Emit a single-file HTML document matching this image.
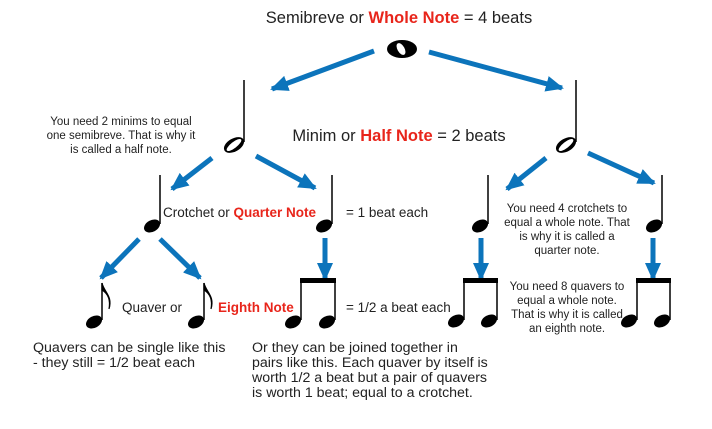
<!DOCTYPE html>
<html><head><meta charset="utf-8"><style>
html,body{margin:0;padding:0;background:#fff;}
svg{display:block;font-family:"Liberation Sans",Arial,sans-serif;}
.r{fill:#e8251b;font-weight:bold;}
</style></head><body>
<svg width="712" height="429" viewBox="0 0 712 429" xmlns="http://www.w3.org/2000/svg">
<defs>
<marker id="a" markerUnits="userSpaceOnUse" markerWidth="20" markerHeight="20" refX="16" refY="8" orient="auto">
<path d="M0,0 L18,8 L0,16 Z" fill="#0c74bb"/>
</marker>
<g id="hh"><ellipse cx="0" cy="0" rx="11" ry="6.5" transform="rotate(-30)" fill="#000"/><ellipse cx="0" cy="0" rx="9" ry="3" transform="rotate(-38)" fill="#fff"/></g>
<g id="qh"><ellipse cx="0" cy="0" rx="8.5" ry="5.8" transform="rotate(-28)" fill="#000"/></g>
</defs>
<g fill="#222" font-size="16.5">
<text x="399" y="23" text-anchor="middle">Semibreve or <tspan class="r">Whole Note</tspan> = 4 beats</text>
<text x="399" y="141" text-anchor="middle">Minim or <tspan class="r">Half Note</tspan> = 2 beats</text>
</g>
<ellipse cx="402" cy="49" rx="15" ry="9" fill="#000"/>
<ellipse cx="401" cy="49" rx="3.5" ry="6.5" transform="rotate(-30 401 49)" fill="#fff"/>
<g stroke="#0c74bb" stroke-width="5" marker-end="url(#a)" fill="none">
<line x1="374" y1="51" x2="272" y2="89"/>
<line x1="429" y1="52" x2="562" y2="88"/>
<line x1="212" y1="158" x2="172" y2="189"/>
<line x1="256" y1="156" x2="315" y2="188"/>
<line x1="546" y1="158" x2="507" y2="189"/>
<line x1="588" y1="153" x2="654" y2="183"/>
<line x1="139" y1="239" x2="101" y2="278"/>
<line x1="160" y1="239" x2="200" y2="278"/>
<line x1="325" y1="238" x2="325" y2="279"/>
<line x1="481" y1="238" x2="481" y2="279"/>
<line x1="653" y1="238" x2="653" y2="279"/>
</g>
<g stroke="#000" stroke-width="1.5">
<line x1="244" y1="80" x2="244" y2="142"/>
<line x1="576" y1="80" x2="576" y2="142"/>
<line x1="160" y1="175" x2="160" y2="224"/>
<line x1="332" y1="175" x2="332" y2="224"/>
<line x1="488" y1="175" x2="488" y2="224"/>
<line x1="662" y1="175" x2="662" y2="224"/>
<line x1="102" y1="283" x2="102" y2="320"/>
<line x1="204" y1="283" x2="204" y2="320"/>
<line x1="301" y1="280" x2="301" y2="320"/>
<line x1="335" y1="280" x2="335" y2="320"/>
<line x1="464" y1="280" x2="464" y2="320"/>
<line x1="497" y1="280" x2="497" y2="320"/>
<line x1="637" y1="280" x2="637" y2="320"/>
<line x1="670" y1="280" x2="670" y2="320"/>
</g>
<use href="#hh" x="234" y="145"/>
<use href="#hh" x="566" y="145"/>
<use href="#qh" x="152" y="226"/>
<use href="#qh" x="324" y="226"/>
<use href="#qh" x="480" y="226"/>
<use href="#qh" x="654" y="226"/>
<use href="#qh" x="94" y="322"/>
<use href="#qh" x="196" y="322"/>
<use href="#qh" x="293" y="322"/>
<use href="#qh" x="327" y="322"/>
<use href="#qh" x="456" y="321"/>
<use href="#qh" x="489" y="321"/>
<use href="#qh" x="629" y="321"/>
<use href="#qh" x="662" y="321"/>
<path d="M102,283 C104,292 113,296 109,309 C111,298 107,293 102,290 Z" fill="#000" stroke="#000" stroke-width="1.2"/>
<path d="M204,283 C206,292 215,296 211,309 C213,298 209,293 204,290 Z" fill="#000" stroke="#000" stroke-width="1.2"/>
<rect x="300" y="278" width="36" height="5" fill="#000"/>
<rect x="463" y="278" width="35" height="5" fill="#000"/>
<rect x="636" y="278" width="35" height="5" fill="#000"/>
<g fill="#222" font-size="13.5">
<text x="163" y="217">Crotchet or <tspan class="r">Quarter Note</tspan></text>
<text x="346" y="217">= 1 beat each</text>
<text x="122" y="312">Quaver or</text>
<text x="218" y="312" class="r">Eighth Note</text>
<text x="346" y="312">= 1/2 a beat each</text>
</g>
<g fill="#222" font-size="14.2">
<text x="33" y="352">Quavers can be single like this</text>
<text x="33" y="367">- they still = 1/2 beat each</text>
<text x="252" y="352">Or they can be joined together in</text>
<text x="252" y="367">pairs like this. Each quaver by itself is</text>
<text x="252" y="382">worth 1/2 a beat but a pair of quavers</text>
<text x="252" y="397">is worth 1 beat; equal to a crotchet.</text>
</g>
<g fill="#222" font-size="11.5" text-anchor="middle">
<text x="121" y="125">You need 2 minims to equal</text>
<text x="121" y="139">one semibreve. That is why it</text>
<text x="121" y="153">is called a half note.</text>
<text x="567" y="212">You need 4 crotchets to</text>
<text x="567" y="226">equal a whole note. That</text>
<text x="567" y="240">is why it is called  a</text>
<text x="567" y="254">quarter note.</text>
<text x="567" y="290">You need 8 quavers to</text>
<text x="567" y="304">equal a whole note.</text>
<text x="567" y="318">That is why it is called</text>
<text x="567" y="332">an eighth note.</text>
</g>
</svg>
</body></html>
